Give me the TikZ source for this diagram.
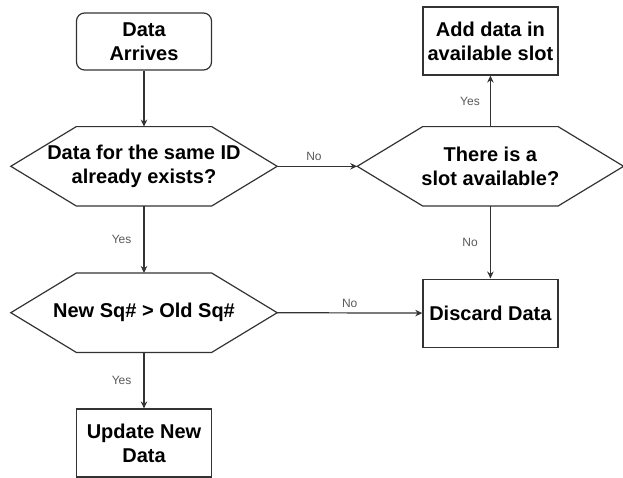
\documentclass[tikz,border=0pt]{standalone}
\usepackage{fontspec}
\setmainfont{Liberation Sans}
\usetikzlibrary{positioning,arrows.meta}

\tikzset{
	procbox/.style={draw=black!80, line width=1.2pt, align=center, inner sep=2pt,
		font=\bfseries\fontsize{20}{24}\selectfont, minimum width=135pt, minimum height=68pt},
	startbox/.style={procbox, rounded corners=8pt, minimum height=57pt},
	hexa/.style={align=center, inner sep=0pt, font=\bfseries\fontsize{20}{24}\selectfont,
		minimum width=266pt, minimum height=79pt},
	hexline/.style={draw=black!80, line width=1.2pt},
	flow/.style={draw=black!80, line width=1.2pt, -{Stealth[length=7pt,width=6.5pt]}},
	lbl/.style={font=\fontsize{12}{14}\selectfont, text=black!65, inner sep=2pt}
}

\begin{document}
\begin{tikzpicture}
	\useasboundingbox (0,0) rectangle (623pt,-477pt);

	\node[startbox] (arrive) at (144pt,-41.5pt) {Data\\Arrives};
	\node[hexa, below=56pt of arrive] (same) {Data for the same ID\\already exists?};
	\node[hexa, below=67pt of same] (sq) {New Sq\# > Old Sq\#};
	\node[procbox, below=56pt of sq] (update) {Update New\\Data};

	\node[hexa, right=80pt of same] (slot) {There is a\\slot available?};
	\node[procbox, above=51pt of slot] (add) {Add data in\\available slot};
	\node[procbox, below=72.5pt of slot] (discard) {Discard Data};

	% hexagon outlines round the decision nodes
	\foreach \h in {same,slot,sq}
		\draw[hexline] (\h.west) -- ([xshift=65.5pt]\h.north west) -- ([xshift=-65.5pt]\h.north east)
			-- (\h.east) -- ([xshift=-65.5pt]\h.south east) -- ([xshift=65.5pt]\h.south west) -- cycle;

	\draw[flow] (arrive.south) -- (same.north);
	\draw[flow] (same.east) -- node[lbl, above=3pt, pos=0.46] {No} (slot.west);
	\draw[flow] (same.south) -- node[lbl, left=10pt] {Yes} (sq.north);
	\draw[flow] (sq.south) -- node[lbl, left=10pt] {Yes} (update.north);
	\draw[flow] (slot.north) -- node[lbl, left=8pt] {Yes} (add.south);
	\draw[flow] (slot.south) -- node[lbl, left=10pt] {No} (discard.north);
	\draw[flow] (sq.east) -- node[lbl, above=3pt] {No} (discard.west);
\end{tikzpicture}
\end{document}
